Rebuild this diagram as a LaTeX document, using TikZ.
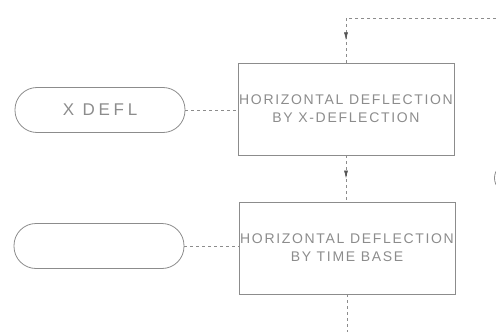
\documentclass[tikz,border=0pt]{standalone}
\usepackage{fontspec}
\newfontfamily\platefont[LetterSpace=12]{Liberation Sans}
\newfontfamily\termfont[LetterSpace=22]{Liberation Sans}
\usetikzlibrary{arrows.meta,decorations.markings}

\definecolor{inkgrey}{HTML}{8C8C8C}
\definecolor{tipgrey}{HTML}{555555}

\tikzset{
    procbox/.style={draw=inkgrey, line width=0.8pt, minimum width=216pt, minimum height=92pt,
        inner sep=0pt, align=center, text=inkgrey, font=\platefont\fontsize{14}{18}\selectfont},
    terminal/.style={draw=inkgrey, line width=0.8pt, rounded corners=22pt, minimum width=170pt,
        minimum height=45pt, inner sep=0pt, text=inkgrey, font=\termfont\fontsize{17}{18}\selectfont},
    flowline/.style={draw=inkgrey, line width=0.6pt, dash pattern=on 3pt off 3pt},
    midarrow/.style={postaction={decorate}, decoration={markings,
        mark=at position 0.5 with {\arrow[tipgrey]{Latex[length=8pt,width=4pt]}}}}
}

\begin{document}
\begin{tikzpicture}[x=1pt,y=-1pt]
\useasboundingbox (0,0) rectangle (496,332);

% process boxes
\node[procbox] (horx) at (346,109) {HORIZONTAL DEFLECTION\\BY X-DEFLECTION};
\node[procbox] (hort) at (347,248) {HORIZONTAL DEFLECTION\\BY TIME BASE};

% terminals
\node[terminal] (xdefl) at (100,110) {X DEFL};
\node[terminal] (tbase) at (99,246) {};

% free ends
\coordinate (topin) at (496,18);
\coordinate (topbend) at (346,18);
\coordinate (botout) at (347,332);

% flow lines
\draw[flowline] (topin) -- (topbend);
\draw[flowline,midarrow] (topbend) -- (horx.north);
\draw[flowline,midarrow] (horx.south) -- (hort.north -| horx.south);
\draw[flowline] (hort.south) -- (botout);
\draw[flowline] (xdefl.east) -- (horx.west |- xdefl.east);
\draw[flowline] (tbase.east) -- (hort.west |- tbase.east);

% edge of a shape cut off at the right
\draw[inkgrey, line width=0.8pt] (499,168) .. controls (493,172) and (493,184) .. (499,188);
\end{tikzpicture}
\end{document}
